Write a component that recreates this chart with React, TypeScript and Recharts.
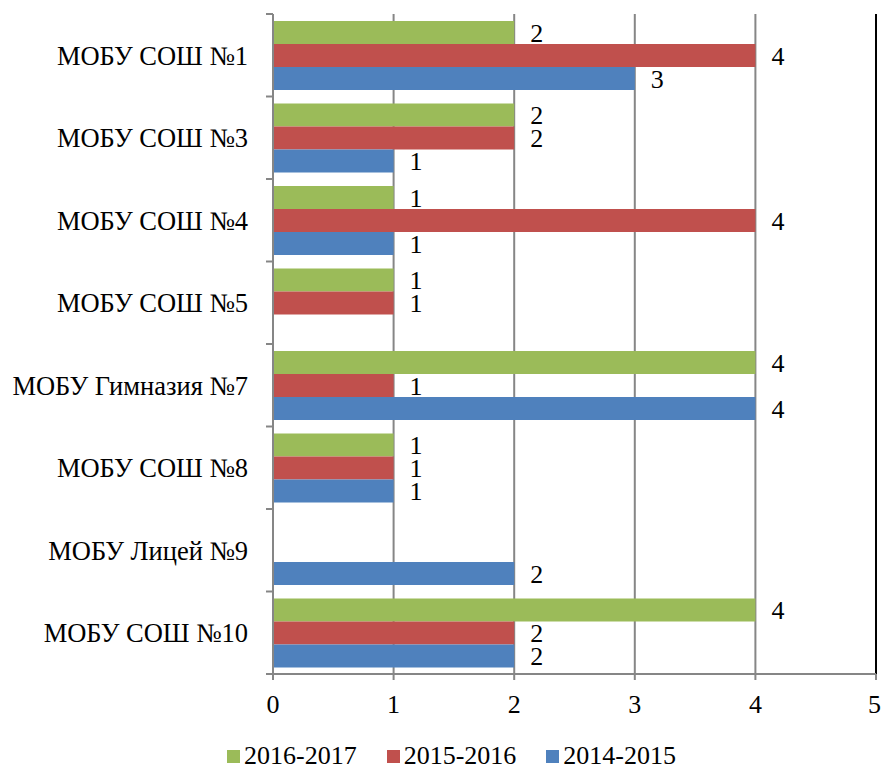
import React from 'react';
import { BarChart, Bar, XAxis, YAxis, CartesianGrid, Legend, LabelList, ReferenceLine } from 'recharts';

// Schools and counts per school year
const schools = [
  'МОБУ СОШ №1',
  'МОБУ СОШ №3',
  'МОБУ СОШ №4',
  'МОБУ СОШ №5',
  'МОБУ Гимназия №7',
  'МОБУ СОШ №8',
  'МОБУ Лицей №9',
  'МОБУ СОШ №10',
];
const y2016: (number | null)[] = [2, 2, 1, 1, 4, 1, null, 4];
const y2015: (number | null)[] = [4, 2, 4, 1, 1, 1, null, 2];
const y2014: (number | null)[] = [3, 1, 1, null, 4, 1, 2, 2];
const xTicks = [0, 1, 2, 3, 4, 5];

const series = [
  { key: 'y2016', name: '2016-2017', color: '#9BBB59' },
  { key: 'y2015', name: '2015-2016', color: '#C0504D' },
  { key: 'y2014', name: '2014-2015', color: '#4F81BD' },
];

const data = schools.map((name, i) => ({
  name,
  y2016: y2016[i],
  y2015: y2015[i],
  y2014: y2014[i],
}));

const W = 881;
const H = 769;
const TOP = 14;
const Y_AXIS_W = 273;
const LEGEND_H = 26;
const X_AXIS_H = 69;
const PLOT_BOTTOM = H - LEGEND_H - X_AXIS_H;
const BAND = (PLOT_BOTTOM - TOP) / schools.length;
const FONT = '"Liberation Serif", "Times New Roman", serif';
const GRID = '#868686';
const TICK_SIZE = 7;
const TICK_MARGIN = 18;

const CategoryTick = (props: any) => {
  const { x, y, payload, index } = props;
  const axisX = x + TICK_SIZE + TICK_MARGIN;
  return (
    <g>
      <line x1={axisX - TICK_SIZE} x2={axisX} y1={y - BAND / 2} y2={y - BAND / 2} stroke={GRID} strokeWidth={2} />
      {index === schools.length - 1 && (
        <line x1={axisX - TICK_SIZE} x2={axisX} y1={y + BAND / 2} y2={y + BAND / 2} stroke={GRID} strokeWidth={2} />
      )}
      <text x={x} y={y} dy="0.35em" textAnchor="end" fontFamily={FONT} fontSize={26.5} fill="#000">
        {payload.value}
      </text>
    </g>
  );
};

const ValueLabel = (props: any) => {
  const { x, y, width, height, value } = props;
  if (value === null || value === undefined) return null;
  return (
    <text x={x + width + 16} y={y + height / 2} dy="0.35em" fontFamily={FONT} fontSize={26} fill="#000">
      {value}
    </text>
  );
};

const LegendContent = () => (
  <div
    style={{
      display: 'flex',
      alignItems: 'center',
      height: LEGEND_H,
      lineHeight: `${LEGEND_H}px`,
      paddingLeft: 227,
      fontFamily: FONT,
      fontSize: 26,
    }}
  >
    {series.map((s) => (
      <div key={s.key} style={{ display: 'flex', alignItems: 'center', marginRight: 30 }}>
        <span style={{ display: 'inline-block', width: 13, height: 13, background: s.color, marginRight: 4 }} />
        <span style={{ color: '#000' }}>{s.name}</span>
      </div>
    ))}
  </div>
);

export default function App() {
  return (
    <div style={{ position: 'absolute', left: 0, top: 0, width: W, height: H, background: '#fff' }}>
      <BarChart
        width={W}
        height={H}
        data={data}
        layout="vertical"
        margin={{ top: TOP, right: 5, left: 0, bottom: 0 }}
        barGap={0}
        barSize={23}
      >
        <CartesianGrid horizontal={false} stroke={GRID} strokeWidth={2} />
        <XAxis
          type="number"
          domain={[0, 5]}
          ticks={xTicks}
          height={X_AXIS_H}
          tickSize={6}
          tickMargin={15}
          axisLine={{ stroke: GRID, strokeWidth: 2 }}
          tickLine={{ stroke: GRID, strokeWidth: 2 }}
          tick={{ fontFamily: FONT, fontSize: 26, fill: '#000' }}
        />
        <XAxis
          xAxisId="top"
          orientation="top"
          type="number"
          domain={[0, 5]}
          height={0}
          tick={false}
          tickLine={false}
          axisLine={{ stroke: '#000', strokeWidth: 2 }}
        />
        <YAxis
          type="category"
          dataKey="name"
          width={Y_AXIS_W}
          tickSize={TICK_SIZE}
          tickMargin={TICK_MARGIN}
          tickLine={false}
          axisLine={{ stroke: GRID, strokeWidth: 2 }}
          tick={<CategoryTick />}
          interval={0}
        />
        <ReferenceLine x={5} stroke="#000" strokeWidth={2} />
        {series.map((s) => (
          <Bar key={s.key} dataKey={s.key} name={s.name} fill={s.color} isAnimationActive={false}>
            <LabelList dataKey={s.key} content={<ValueLabel />} />
          </Bar>
        ))}
        <Legend verticalAlign="bottom" content={<LegendContent />} />
      </BarChart>
    </div>
  );
}
